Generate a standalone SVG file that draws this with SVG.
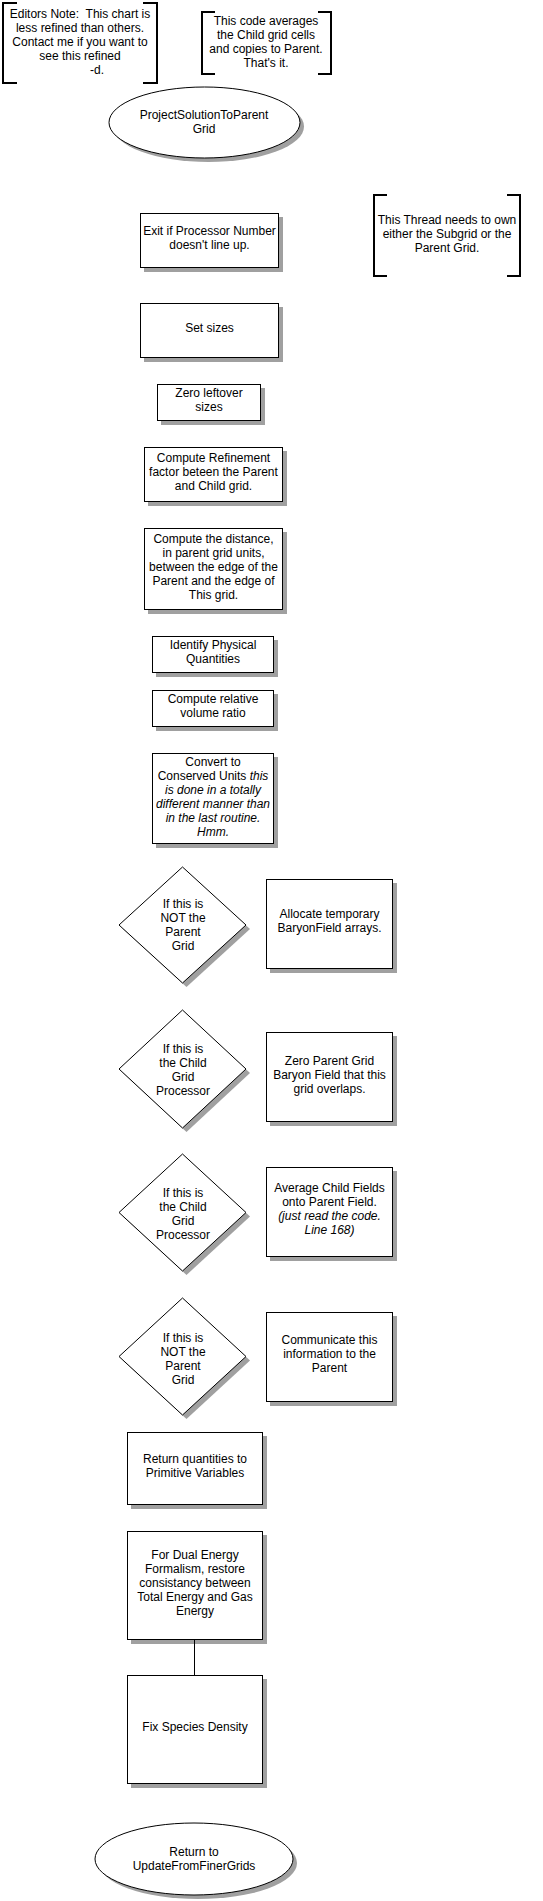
<svg xmlns="http://www.w3.org/2000/svg" width="543" height="1901" viewBox="0 0 543 1901">
<style>
text{font-family:"Liberation Sans",Arial,sans-serif;font-size:12px;fill:#000;text-anchor:middle}
.i{font-style:italic}
.pre{white-space:pre}
.box{fill:#fff;stroke:#000;stroke-width:1}
.sh{fill:#a0a0a0}
.br{fill:none;stroke:#000;stroke-width:2}
.ln{fill:none;stroke:#000;stroke-width:1}
</style>
<rect width="543" height="1901" fill="#fff"/>

<g id="note-editors">
<path class="br" d="M17,3H3V83H17M143,3H157V83H143"/>
<text x="80" y="17.5" class="pre" xml:space="preserve">Editors Note:  This chart is</text>
<text x="80" y="31.5">less refined than others.</text>
<text x="80" y="45.5">Contact me if you want to</text>
<text x="80" y="59.5">see this refined</text>
<text x="97" y="73.5">-d.</text>
</g>

<g id="note-code">
<path class="br" d="M215,12H202V74H215M318,12H331V74H318"/>
<text x="266" y="25">This code averages</text>
<text x="266" y="39">the Child grid cells</text>
<text x="266" y="53">and copies to Parent.</text>
<text x="266" y="67">That's it.</text>
</g>

<g id="start">
<ellipse class="sh" cx="208.5" cy="126.5" rx="95.5" ry="35.5"/>
<ellipse class="box" cx="204.5" cy="122.5" rx="95.5" ry="35.5"/>
<text x="204" y="119">ProjectSolutionToParent</text>
<text x="204" y="133">Grid</text>
</g>

<g id="exit">
<rect class="sh" x="144" y="217" width="139" height="55"/>
<rect class="box" x="140.5" y="213.5" width="138" height="54"/>
<text x="209.5" y="235">Exit if Processor Number</text>
<text x="209.5" y="249">doesn't line up.</text>
</g>

<g id="note-thread">
<path class="br" d="M387,195H374V276H387M507,195H520V276H507"/>
<text x="447" y="224">This Thread needs to own</text>
<text x="447" y="238">either the Subgrid or the</text>
<text x="447" y="252">Parent Grid.</text>
</g>

<g id="set-sizes">
<rect class="sh" x="144" y="307" width="139" height="55"/>
<rect class="box" x="140.5" y="303.5" width="138" height="54"/>
<text x="209.5" y="332">Set sizes</text>
</g>

<g id="zero-leftover">
<rect class="sh" x="161" y="388" width="104" height="37"/>
<rect class="box" x="157.5" y="384.5" width="103" height="36"/>
<text x="209" y="397">Zero leftover</text>
<text x="209" y="411">sizes</text>
</g>

<g id="refinement">
<rect class="sh" x="148" y="451" width="139" height="55"/>
<rect class="box" x="144.5" y="447.5" width="138" height="54"/>
<text x="213.5" y="462">Compute Refinement</text>
<text x="213.5" y="476">factor beteen the Parent</text>
<text x="213.5" y="490">and Child grid.</text>
</g>

<g id="distance">
<rect class="sh" x="148" y="532" width="139" height="82"/>
<rect class="box" x="144.5" y="528.5" width="138" height="81"/>
<text x="213.5" y="543">Compute the distance,</text>
<text x="213.5" y="557">in parent grid units,</text>
<text x="213.5" y="571">between the edge of the</text>
<text x="213.5" y="585">Parent and the edge of</text>
<text x="213.5" y="599">This grid.</text>
</g>

<g id="identify">
<rect class="sh" x="156" y="640" width="122" height="37"/>
<rect class="box" x="152.5" y="636.5" width="121" height="36"/>
<text x="213" y="649">Identify Physical</text>
<text x="213" y="663">Quantities</text>
</g>

<g id="volume-ratio">
<rect class="sh" x="156" y="694" width="122" height="37"/>
<rect class="box" x="152.5" y="690.5" width="121" height="36"/>
<text x="213" y="703">Compute relative</text>
<text x="213" y="717">volume ratio</text>
</g>

<g id="convert">
<rect class="sh" x="156" y="757" width="122" height="91"/>
<rect class="box" x="152.5" y="753.5" width="121" height="90"/>
<text x="213" y="766">Convert to</text>
<text x="213" y="780">Conserved Units <tspan class="i">this</tspan></text>
<text x="213" y="794" class="i">is done in a totally</text>
<text x="213" y="808" class="i">different manner than</text>
<text x="213" y="822" class="i">in the last routine.</text>
<text x="213" y="836" class="i">Hmm.</text>
</g>

<g id="decision-1">
<polygon class="sh" points="186.5,871 250,929 186.5,987 123,929"/>
<polygon class="box" points="182.5,867 246,925 182.5,983 119,925"/>
<text x="183" y="908">If this is</text>
<text x="183" y="922">NOT the</text>
<text x="183" y="936">Parent</text>
<text x="183" y="950">Grid</text>
</g>

<g id="allocate">
<rect class="sh" x="270" y="883" width="127" height="90"/>
<rect class="box" x="266.5" y="879.5" width="126" height="89"/>
<text x="329.5" y="918">Allocate temporary</text>
<text x="329.5" y="932">BaryonField arrays.</text>
</g>

<g id="decision-2">
<polygon class="sh" points="186.5,1014 250,1073 186.5,1132 123,1073"/>
<polygon class="box" points="182.5,1010 246,1069 182.5,1128 119,1069"/>
<text x="183" y="1053">If this is</text>
<text x="183" y="1067">the Child</text>
<text x="183" y="1081">Grid</text>
<text x="183" y="1095">Processor</text>
</g>

<g id="zero-parent">
<rect class="sh" x="270" y="1036" width="127" height="90"/>
<rect class="box" x="266.5" y="1032.5" width="126" height="89"/>
<text x="329.5" y="1065">Zero Parent Grid</text>
<text x="329.5" y="1079">Baryon Field that this</text>
<text x="329.5" y="1093">grid overlaps.</text>
</g>

<g id="decision-3">
<polygon class="sh" points="186.5,1158 250,1216.5 186.5,1275 123,1216.5"/>
<polygon class="box" points="182.5,1154 246,1212.5 182.5,1271 119,1212.5"/>
<text x="183" y="1197">If this is</text>
<text x="183" y="1211">the Child</text>
<text x="183" y="1225">Grid</text>
<text x="183" y="1239">Processor</text>
</g>

<g id="average">
<rect class="sh" x="270" y="1171" width="127" height="90"/>
<rect class="box" x="266.5" y="1167.5" width="126" height="89"/>
<text x="329.5" y="1192">Average Child Fields</text>
<text x="329.5" y="1206">onto Parent Field.</text>
<text x="329.5" y="1220" class="i">(just read the code.</text>
<text x="329.5" y="1234" class="i">Line 168)</text>
</g>

<g id="decision-4">
<polygon class="sh" points="186.5,1302 250,1360.5 186.5,1419 123,1360.5"/>
<polygon class="box" points="182.5,1298 246,1356.5 182.5,1415 119,1356.5"/>
<text x="183" y="1342">If this is</text>
<text x="183" y="1356">NOT the</text>
<text x="183" y="1370">Parent</text>
<text x="183" y="1384">Grid</text>
</g>

<g id="communicate">
<rect class="sh" x="270" y="1316" width="127" height="90"/>
<rect class="box" x="266.5" y="1312.5" width="126" height="89"/>
<text x="329.5" y="1344">Communicate this</text>
<text x="329.5" y="1358">information to the</text>
<text x="329.5" y="1372">Parent</text>
</g>

<g id="return-quantities">
<rect class="sh" x="131" y="1436" width="136" height="73"/>
<rect class="box" x="127.5" y="1432.5" width="135" height="72"/>
<text x="195" y="1463">Return quantities to</text>
<text x="195" y="1477">Primitive Variables</text>
</g>

<g id="dual-energy">
<rect class="sh" x="131" y="1535" width="136" height="109"/>
<rect class="box" x="127.5" y="1531.5" width="135" height="108"/>
<text x="195" y="1559">For Dual Energy</text>
<text x="195" y="1573">Formalism, restore</text>
<text x="195" y="1587">consistancy between</text>
<text x="195" y="1601">Total Energy and Gas</text>
<text x="195" y="1615">Energy</text>
</g>

<g id="fix-species">
<rect class="sh" x="131" y="1679" width="136" height="109"/>
<rect class="box" x="127.5" y="1675.5" width="135" height="108"/>
<text x="195" y="1731">Fix Species Density</text>
</g>

<g id="end">
<ellipse class="sh" cx="198" cy="1863" rx="99" ry="36"/>
<ellipse class="box" cx="194" cy="1859" rx="99" ry="36"/>
<text x="194" y="1856">Return to</text>
<text x="194" y="1870">UpdateFromFinerGrids</text>
</g>

<g id="connectors">
<line class="ln" x1="194.5" y1="1640" x2="194.5" y2="1675"/>
</g>
</svg>
